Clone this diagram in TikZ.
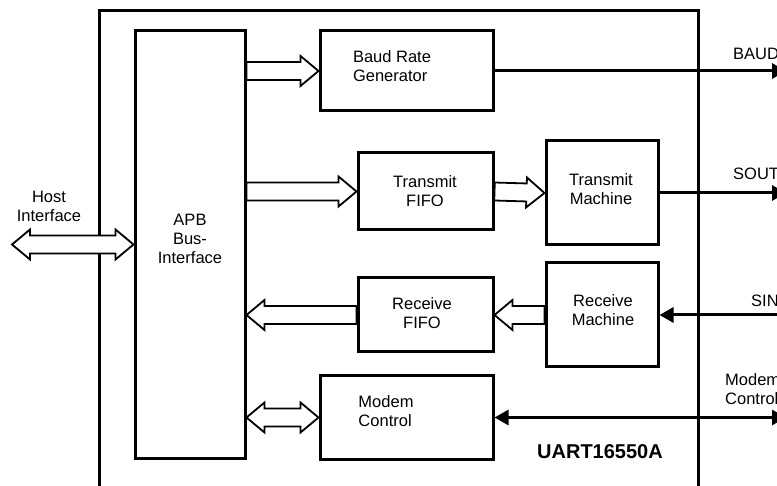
\documentclass[tikz,border=0pt]{standalone}
\usepackage{fontspec}
\setmainfont{Liberation Sans}
\usetikzlibrary{arrows.meta,calc,backgrounds}

% hollow bus arrow, tail #1 -> tip #2
\newcommand{\busarrow}[2]{%
  \path ($(#2)!18pt!(#1)$) coordinate (ba-h);
  \draw[bus] ($(#1)!9pt!90:(#2)$) -- ($(ba-h)!9pt!90:(#2)$) -- ($(ba-h)!15pt!90:(#2)$) -- (#2)
    -- ($(ba-h)!15pt!-90:(#2)$) -- ($(ba-h)!9pt!-90:(#2)$) -- ($(#1)!9pt!-90:(#2)$) -- cycle;}
% hollow bus arrow with two heads
\newcommand{\busdarrow}[2]{%
  \path ($(#2)!18pt!(#1)$) coordinate (ba-h) ($(#1)!18pt!(#2)$) coordinate (ba-t);
  \draw[bus] (#1) -- ($(ba-t)!15pt!90:(#2)$) -- ($(ba-t)!9pt!90:(#2)$) -- ($(ba-h)!9pt!90:(#2)$)
    -- ($(ba-h)!15pt!90:(#2)$) -- (#2) -- ($(ba-h)!15pt!-90:(#2)$) -- ($(ba-h)!9pt!-90:(#2)$)
    -- ($(ba-t)!9pt!-90:(#2)$) -- ($(ba-t)!15pt!-90:(#2)$) -- cycle;}

\begin{document}
\begin{tikzpicture}[
        x=1pt, y=-1pt,
        blk/.style={draw, line width=3pt, rectangle, inner sep=0pt},
        txt/.style={inner sep=0pt, align=center, font=\fontsize{16.5}{19}\selectfont},
        bus/.style={draw, fill=white, line width=1.8pt, line join=miter},
        sig/.style={line width=3pt, -{Triangle[length=14pt,width=15pt]}}
    ]
        \useasboundingbox (0,0) rectangle (777,486);
        \clip (0,0) rectangle (777,486);

        % Blocks
        \node[blk, minimum width=110, minimum height=427] (apb) at (190,244.5) {};
        \node[blk, minimum width=173, minimum height=80] (baud) at (406.5,71) {};
        \node[blk, minimum width=135, minimum height=77] (txfifo) at (425.5,191.5) {};
        \node[blk, minimum width=112, minimum height=104] (txm) at (602,193) {};
        \node[blk, minimum width=112, minimum height=104] (rxm) at (602,315) {};
        \node[blk, minimum width=135, minimum height=74] (rxfifo) at (425.5,315) {};
        \node[blk, minimum width=173, minimum height=83] (modem) at (406.5,417.5) {};

        % Block texts
        \node[txt] (apbT) at (190,239) {APB\\Bus-\\Interface};
        \node[txt, align=left] (baudT) at (392,66) {Baud Rate\\Generator};
        \node[txt] (txfifoT) at (425,191) {Transmit\\FIFO};
        \node[txt] (txmT) at (601,189) {Transmit\\Machine};
        \node[txt] (rxmT) at (603,310) {Receive\\Machine};
        \node[txt] (rxfifoT) at (422,313) {Receive\\FIFO};
        \node[txt, align=left] (modemT) at (386,411) {Modem\\Control};
        \node[txt] (hostT) at (49,206) {Host\\Interface};
        \node[txt, anchor=base, font=\fontsize{20}{24}\selectfont\bfseries] (uartT) at (600,458) {UART16550A};

        % Pin labels
        \node[txt, anchor=base west] (baudL) at (733,60) {BAUD};
        \node[txt, anchor=base west] (soutL) at (733,180) {SOUT};
        \node[txt, anchor=base west] (sinL) at (751,307) {SIN};
        \node[txt, anchor=west, align=left] (modemL) at (725,389) {Modem\\Control};

        % Free ends
        \coordinate (host) at (12,244.5);
        \coordinate (baudOut) at (786,71);
        \coordinate (soutOut) at (786,193);
        \coordinate (sinIn) at (786,315);
        \coordinate (modemOut) at (786,417.5);
        \coordinate (apbBaud) at (apb.east |- baud.west);
        \coordinate (apbTx) at (apb.east |- txfifo.west);
        \coordinate (apbRx) at (apb.east |- rxfifo.west);
        \coordinate (apbModem) at (apb.east |- modem.west);

        \begin{scope}[on background layer]
        % Outer block
        \node[blk, minimum width=599, minimum height=509] (uart) at (398.5,265.5) {};
        % Bus arrows
        \busdarrow{host}{apb.west}
        \busarrow{apbBaud}{baud.west}
        \busarrow{apbTx}{txfifo.west}
        \busarrow{txfifo.east}{txm.west}
        \busarrow{rxm.west}{rxfifo.east}
        \busarrow{rxfifo.west}{apbRx}
        \busdarrow{apbModem}{modem.west}
        \end{scope}

        % Signals
        \draw[sig] (baud.east) -- (baudOut);
        \draw[sig] (txm.east) -- (soutOut);
        \draw[sig] (sinIn) -- (rxm.east);
        \draw[sig, {Triangle[length=14pt,width=15pt]}-{Triangle[length=14pt,width=15pt]}] (modem.east) -- (modemOut);
    \end{tikzpicture}
\end{document}
